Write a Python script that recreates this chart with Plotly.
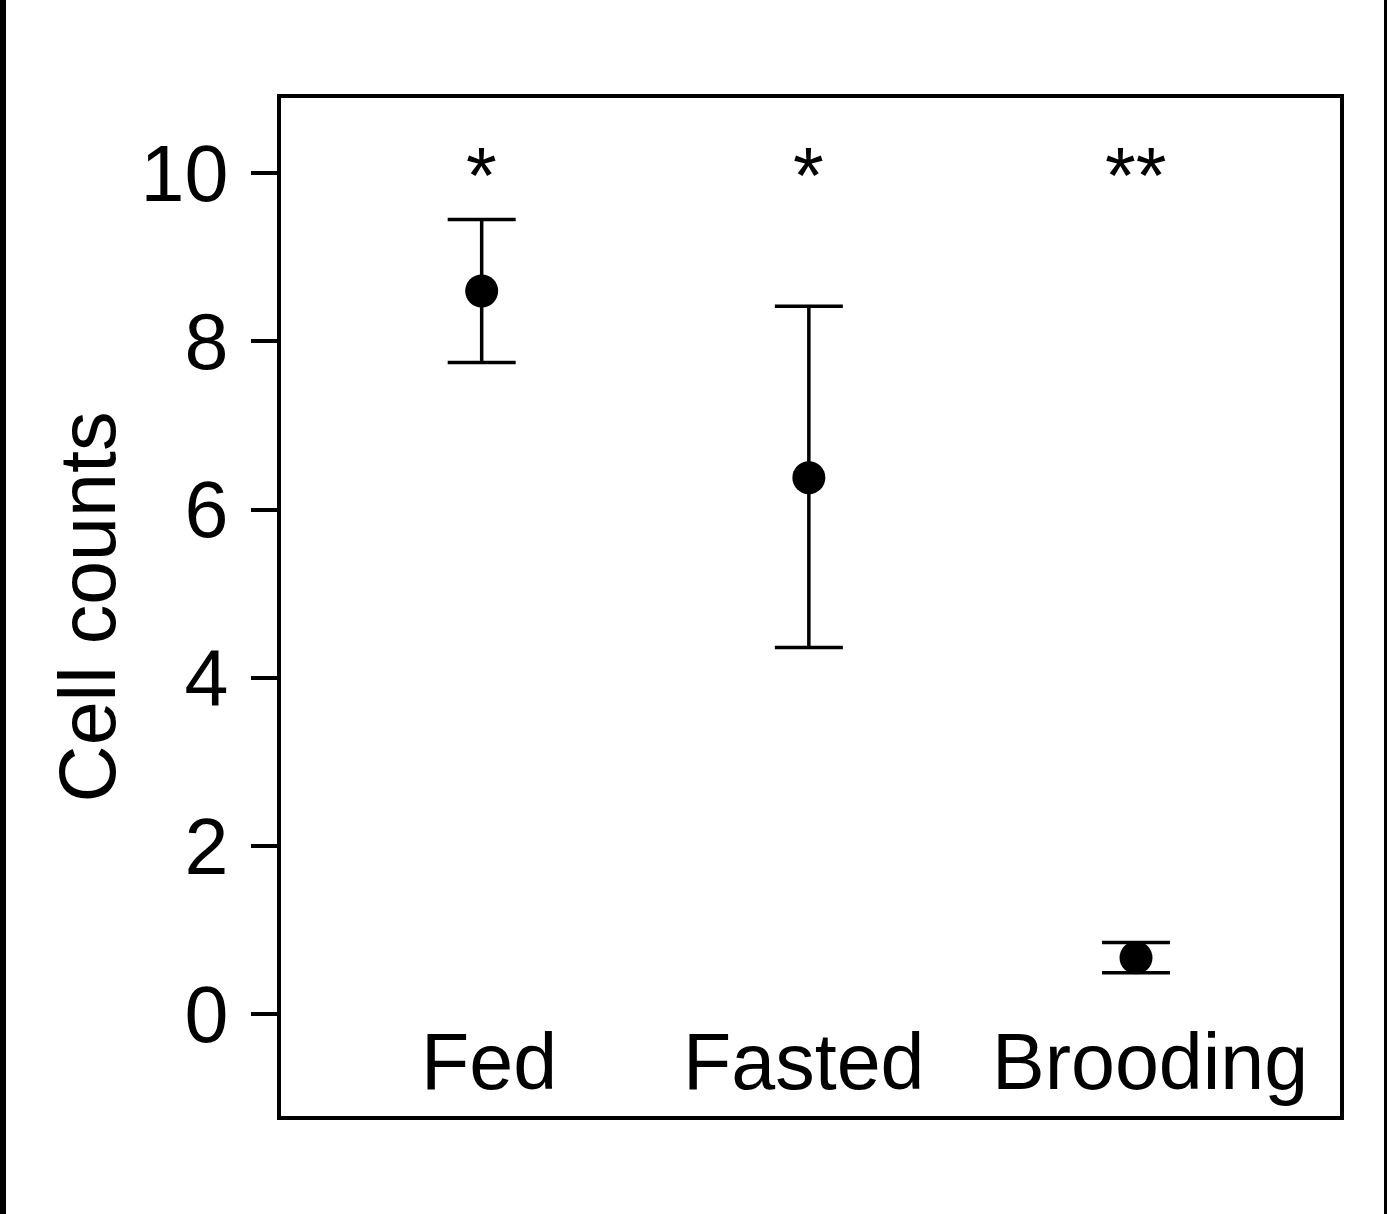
import plotly.graph_objects as go

categories = ["Fed", "Fasted", "Brooding"]
means = [8.6, 6.38, 0.67]
err_plus = [0.85, 2.04, 0.18]
err_minus = [0.85, 2.02, 0.18]
stars = ["*", "*", "**"]
yticks = [0, 2, 4, 6, 8, 10]

xpos = [i + 1 for i in range(len(categories))]
FONT = "Arial, Liberation Sans, sans-serif"
FS = 79

fig = go.Figure()
fig.add_trace(go.Scatter(
    x=xpos, y=means, mode="markers",
    marker=dict(color="black", size=33, symbol="circle"),
    error_y=dict(type="data", symmetric=False, array=err_plus, arrayminus=err_minus,
                 color="black", thickness=3.5, width=34),
    showlegend=False,
))

label_shift = [7, -5, 14]
for x, c, s, sh in zip(xpos, categories, stars, label_shift):
    fig.add_annotation(x=x, y=-0.57, text=c, showarrow=False, xshift=sh,
                       font=dict(family=FONT, size=FS, color="black"),
                       xanchor="center", yanchor="middle")
    fig.add_annotation(x=x, y=10, text=s, showarrow=False,
                       font=dict(family=FONT, size=FS, color="black"),
                       xanchor="center", yanchor="middle", yshift=-2)

W, H = 1387, 1214
L, R, T, B = 281, 1340, 98, 1116
pw = R - L
# side strips (scan border)
fig.add_shape(type="rect", xref="paper", yref="paper",
              x0=-L / pw, x1=(6 - L) / pw, y0=-(H - B) / (B - T), y1=1 + T / (B - T),
              fillcolor="black", line_width=0, layer="above")
fig.add_shape(type="rect", xref="paper", yref="paper",
              x0=(1384 - L) / pw, x1=(W - L) / pw, y0=-(H - B) / (B - T), y1=1 + T / (B - T),
              fillcolor="black", line_width=0, layer="above")

fig.update_layout(
    width=W, height=H,
    margin=dict(l=L, r=W - R, t=T, b=H - B, autoexpand=False),
    plot_bgcolor="white", paper_bgcolor="white",
    font=dict(family=FONT, size=FS, color="black"),
    xaxis=dict(range=[0.3866, 3.6235], showticklabels=False, ticks="",
               showgrid=False, zeroline=False, showline=True, mirror=True,
               linecolor="black", linewidth=3.5),
    yaxis=dict(range=[-1.213, 10.896], tickvals=yticks, ticks="outside",
               ticklen=26, tickwidth=3.5, tickcolor="black",
               ticklabelstandoff=7,
               showgrid=False, zeroline=False, showline=True, mirror=True,
               linecolor="black", linewidth=3.5,
               tickfont=dict(family=FONT, size=FS, color="black"),
               title=dict(text="Cell counts", standoff=0,
                          font=dict(family=FONT, size=FS, color="black"))),
)

fig.write_html("out.html", config={"displayModeBar": False},
               post_script="document.body.style.margin='0';")
